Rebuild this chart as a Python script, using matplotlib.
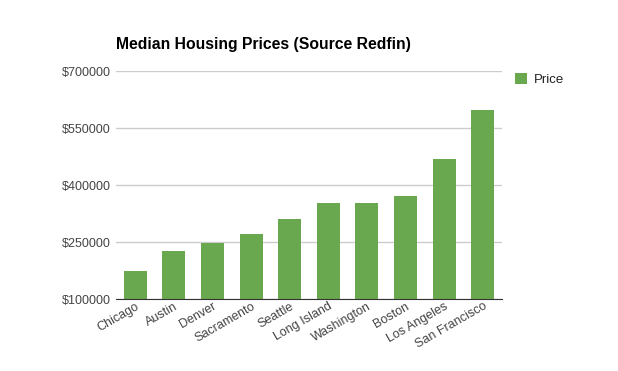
import matplotlib.pyplot as plt
from matplotlib.ticker import FuncFormatter

# Data
cities = ['Chicago', 'Austin', 'Denver', 'Sacramento', 'Seattle',
          'Long Island', 'Washington', 'Boston', 'Los Angeles', 'San Francisco']
prices = [174000, 227000, 248000, 271000, 311000,
          353000, 353000, 371000, 469000, 598000]
y_ticks = [100000, 250000, 400000, 550000, 700000]

plt.rcParams['font.family'] = ['Liberation Sans', 'DejaVu Sans']

fig = plt.figure(figsize=(6.18, 3.71), dpi=100)
ax = fig.add_axes([0.1877, 0.194, 0.6246, 0.6146])

ax.bar(range(len(cities)), prices, width=0.6, color='#6aa84f', label='Price', zorder=2)

ax.set_xlim(-0.5, len(cities) - 0.5)
ax.set_ylim(y_ticks[0], y_ticks[-1])
ax.set_yticks(y_ticks)
ax.yaxis.set_major_formatter(FuncFormatter(lambda v, p: f'${v:.0f}'))
ax.grid(axis='y', color='#cccccc', linewidth=1, zorder=0)

ax.set_xticks(range(len(cities)))
ax.set_xticklabels(cities, rotation=30, ha='right', rotation_mode='anchor')
ax.tick_params(axis='both', length=0, labelsize=9, labelcolor='#444444')
ax.tick_params(axis='y', pad=4)
ax.tick_params(axis='x', pad=1)

for side in ['top', 'right', 'left']:
    ax.spines[side].set_visible(False)
ax.spines['bottom'].set_color('#333333')
ax.spines['bottom'].set_zorder(3)

fig.text(116 / 618, 1 - 44 / 371, 'Median Housing Prices (Source Redfin)',
         fontsize=11.3, fontweight='bold', va='center', ha='left')

ax.legend(loc='upper left', bbox_to_anchor=(1.003, 1.045), frameon=False,
          fontsize=9.5, handlelength=0.9, handleheight=0.9, handletextpad=0.5,
          labelcolor='#222222')

fig.savefig('out.png', dpi=100)
